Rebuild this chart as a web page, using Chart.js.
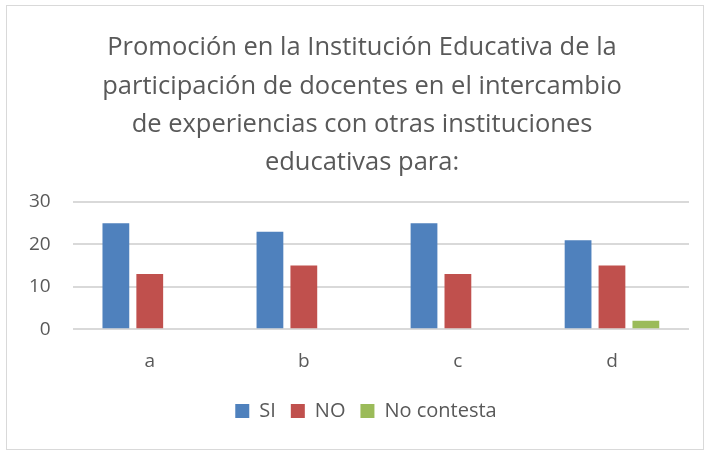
<!DOCTYPE html>
<html><head><meta charset="utf-8">
<script src="https://cdn.jsdelivr.net/npm/chart.js@4"></script>
<style>
html,body{margin:0;padding:0;background:#fff;}
#box{position:absolute;left:6px;top:5px;width:698px;height:445px;border:1px solid #d9d9d9;box-sizing:border-box;}
canvas{display:block;}
</style></head><body>
<div id="box"><canvas id="c" width="696" height="443"></canvas></div>
<script>
const categories = ['a','b','c','d'];
const siValues = [25,23,25,21];
const noValues = [13,15,13,15];
const noContestaValues = [null,null,null,2];
const titleLines = ['Promoción en la Institución Educativa de la','participación de docentes en el intercambio','de experiencias con otras instituciones','educativas para:'];
const yTicks = [0,10,20,30];

const blockShift = {
  id:'blockShift',
  afterLayout(chart){
    const t = chart.titleBlock; if(t){ t.left += 14; t.right += 14; }
    const l = chart.legend; if(l){ l.left += 18; l.right += 18; }
  }
};

new Chart(document.getElementById('c'), {
  type: 'bar',
  data: {
    labels: categories,
    datasets: [
      {label:'SI', data: siValues, backgroundColor:'#4f81bd'},
      {label:'NO', data: noValues, backgroundColor:'#c0504d'},
      {label:'No contesta', data: noContestaValues, backgroundColor:'#9bbb59'}
    ]
  },
  plugins:[blockShift],
  options: {
    responsive:false,
    animation:false,
    categoryPercentage:0.66,
    barPercentage:0.79,
    layout:{padding:{left:0,right:14,top:4,bottom:18}},
    plugins:{
      title:{display:true,text:titleLines,color:'#595959',font:{family:'Open Sans',size:25.5,weight:'normal',lineHeight:1.5},padding:{top:19,bottom:20}},
      legend:{position:'bottom',labels:{color:'#595959',font:{family:'Open Sans',size:20},boxWidth:14,boxHeight:14,padding:15}},
      tooltip:{enabled:false}
    },
    scales:{
      x:{grid:{display:false},border:{display:false},ticks:{color:'#595959',font:{family:'Open Sans',size:19},padding:13}},
      y:{min:0,max:30,afterBuildTicks:(ax)=>{ax.ticks=yTicks.map(v=>({value:v}));},
         grid:{color:'#d9d9d9',lineWidth:2,drawTicks:false},border:{display:false},
         ticks:{color:'#595959',font:{family:'Open Sans',size:19},padding:22}}
    }
  }
});
</script>
</body></html>
